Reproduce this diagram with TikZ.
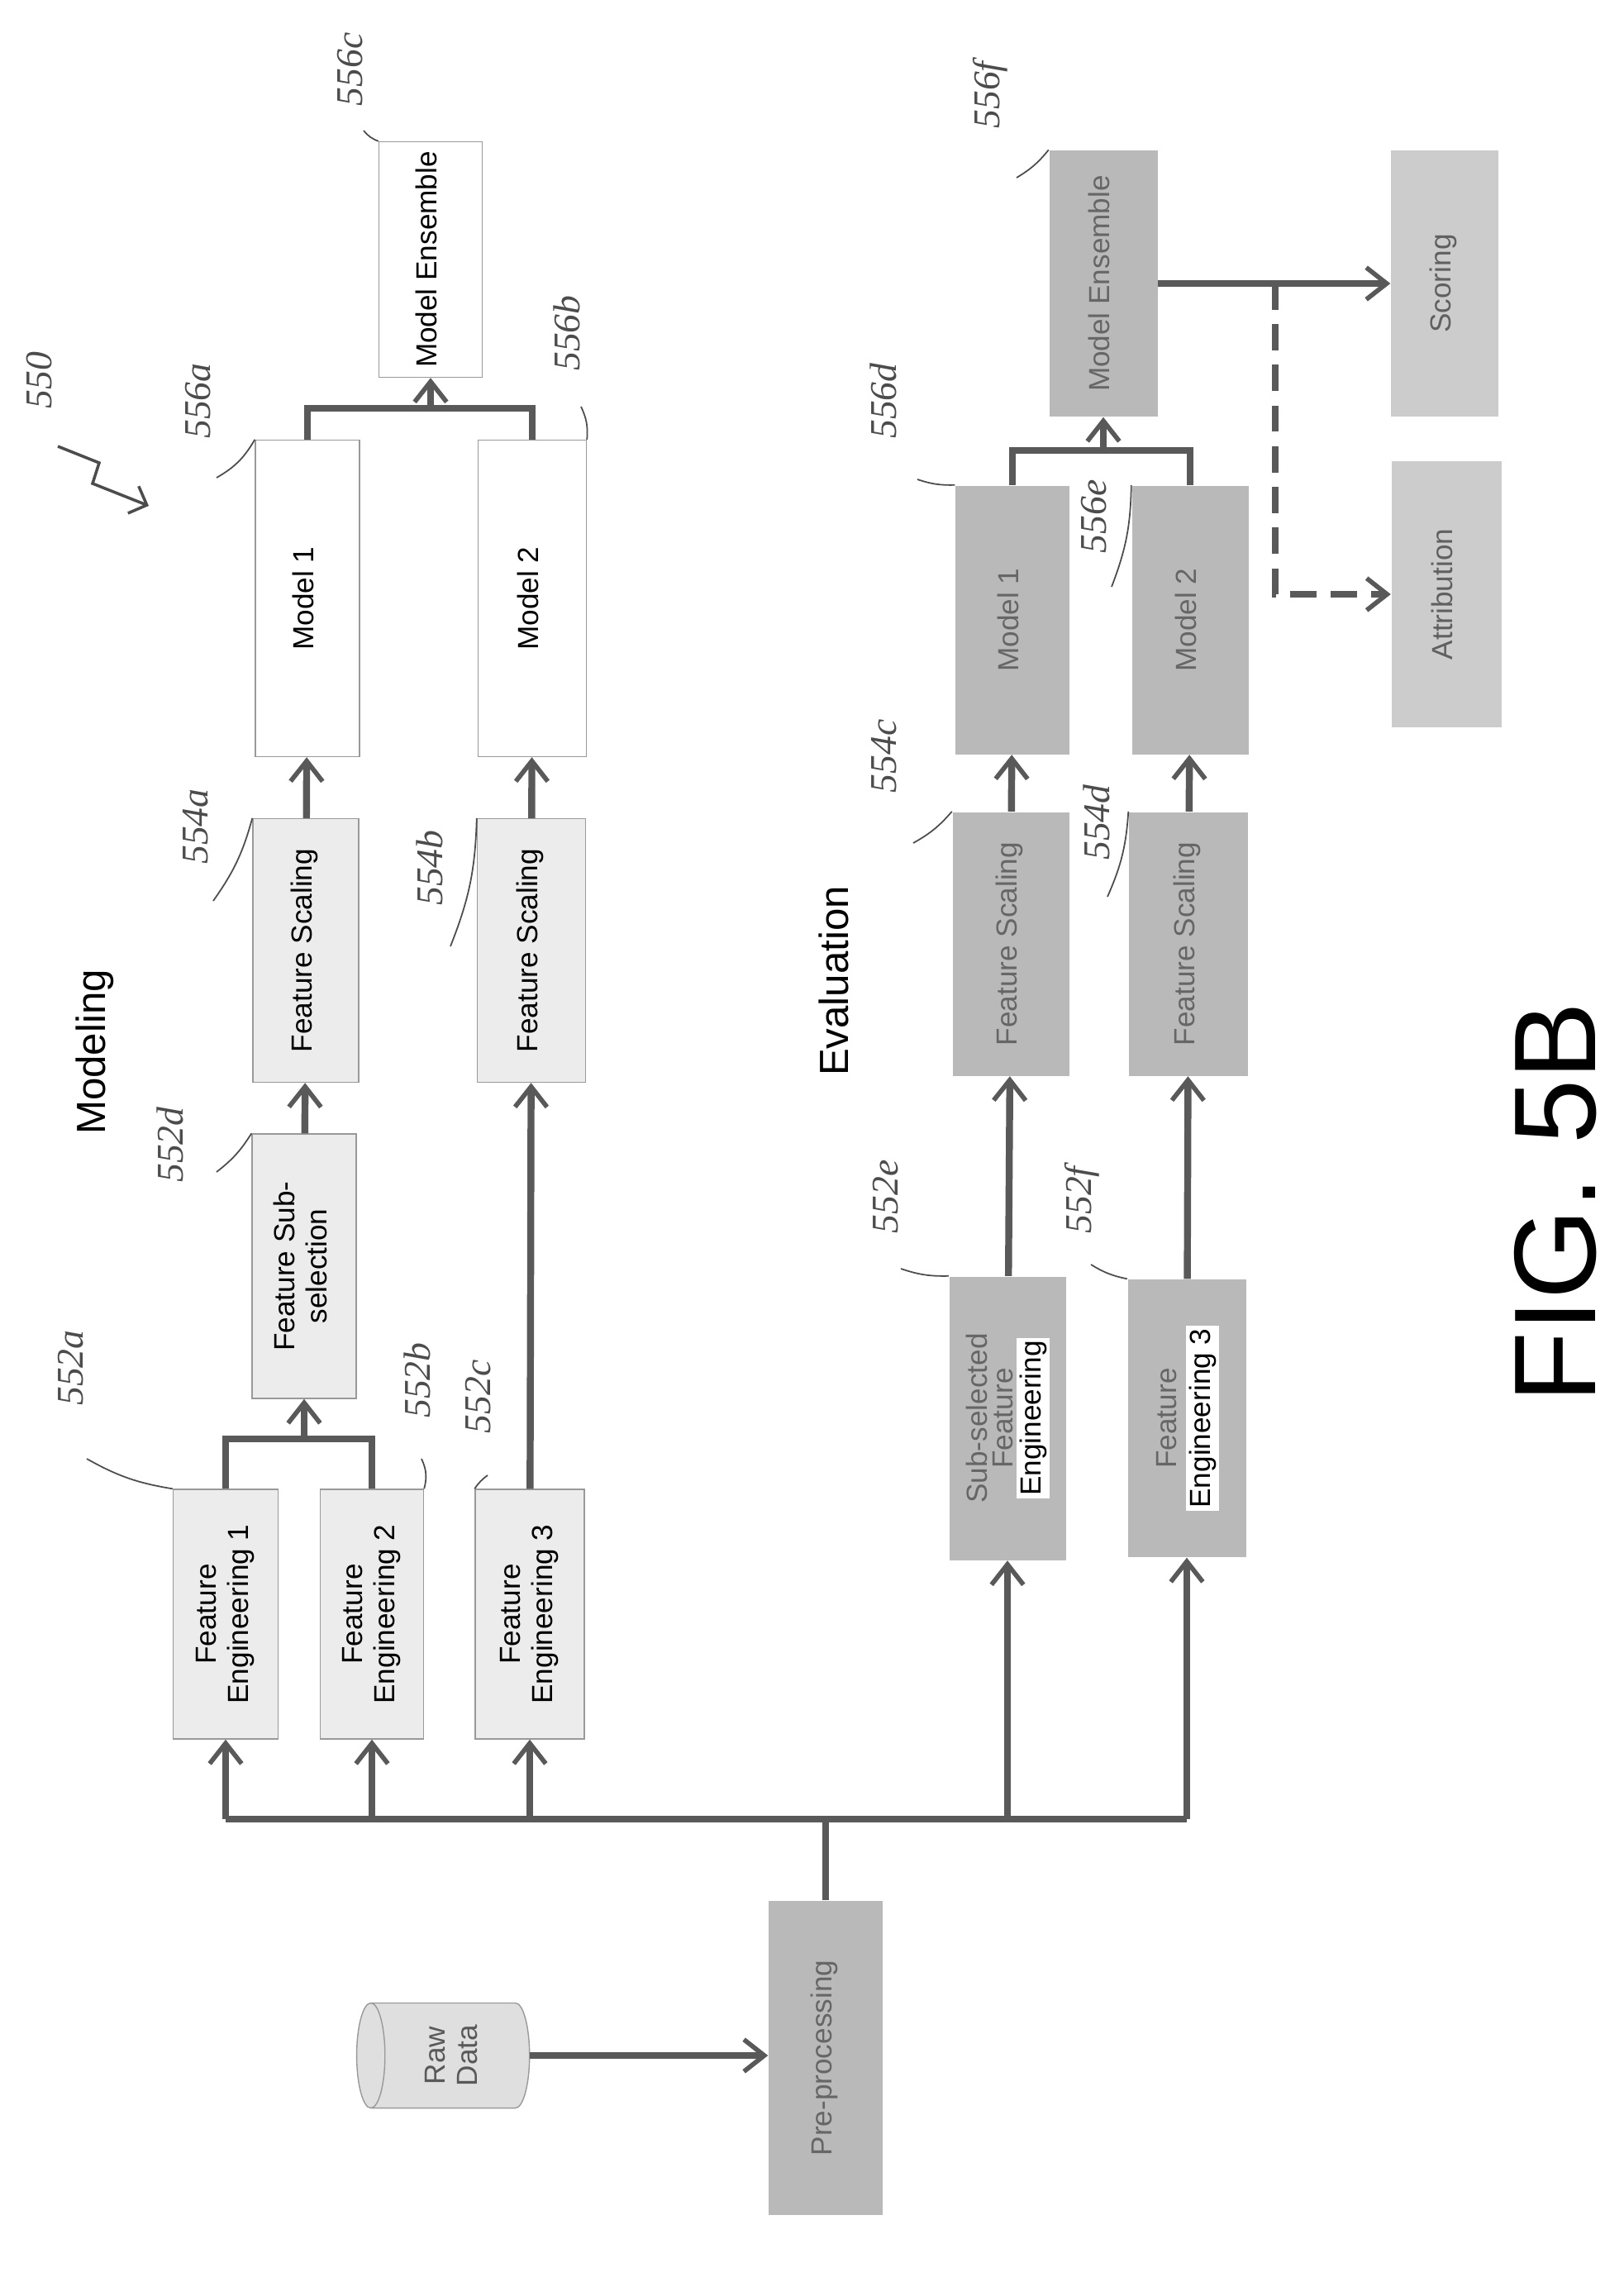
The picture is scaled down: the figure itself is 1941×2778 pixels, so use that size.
\documentclass[tikz,border=0pt]{standalone}
\usepackage{fontspec}
\setmainfont{Liberation Sans}
\newfontfamily\handfont{Liberation Serif}
\usetikzlibrary{arrows.meta,shapes.geometric}
\setlength{\fboxsep}{1pt}
\newcommand{\vtxt}[1]{\rotatebox{90}{\begin{tabular}{@{}c@{}}#1\end{tabular}}}
\begin{document}
\begin{tikzpicture}[x=0.01cm,y=-0.01cm,
    sz/.style 2 args={minimum width=#1*0.01cm, minimum height=#2*0.01cm, inner sep=0pt},
    light/.style={draw=gray!80, fill=gray!15, font=\fontsize{10}{11}\selectfont},
    plain/.style={draw=gray!80, fill=white, font=\fontsize{10}{11}\selectfont},
    dark/.style={draw=none, fill=gray!55, text=gray!80!black, font=\fontsize{10}{11}\selectfont},
    mid/.style={draw=none, fill=gray!40, text=gray!75!black, font=\fontsize{10}{11}\selectfont},
    wire/.style={draw=gray!70!black, line width=2.4pt},
    flow/.style={wire, -{Straight Barb[length=7pt,width=11pt,line width=1.6pt]}},
    ref/.style={font=\handfont\itshape\fontsize{13}{13}\selectfont, text=gray!60!black},
    lead/.style={draw=gray!60!black, line width=0.5pt}]
  \useasboundingbox (0,0) rectangle (1941,2778);
  % modeling row
  \node[light,sz={127}{302}] (fea) at (273,1953) {\vtxt{Feature\\Engineering 1}};
  \node[light,sz={125}{302}] (feb) at (450,1953) {\vtxt{Feature\\Engineering 2}};
  \node[light,sz={132}{302}] (fec) at (641,1953) {\vtxt{Feature\\Engineering 3}};
  \node[light,sz={126}{320}] (sub) at (368,1532) {\vtxt{Feature Sub-\\selection}};
  \node[light,sz={128}{319}] (scla) at (370,1150) {\vtxt{Feature Scaling}};
  \node[light,sz={131}{319}] (sclb) at (643,1150) {\vtxt{Feature Scaling}};
  \node[plain,sz={126}{383}] (moda) at (372,724) {\vtxt{Model 1}};
  \node[plain,sz={131}{383}] (modb) at (644,724) {\vtxt{Model 2}};
  \node[plain,sz={125}{285}] (ens) at (521,314) {\vtxt{Model Ensemble}};
  % evaluation row
  \node[dark,sz={141}{343}] (fee) at (1219,1716) {\vtxt{Sub-selected\\[-2pt]Feature\\[-2pt]\colorbox{white}{\textcolor{black}{Engineering}}}};
  \node[dark,sz={143}{336}] (fef) at (1436,1716) {\vtxt{Feature\\\colorbox{white}{\textcolor{black}{Engineering 3}}}};
  \node[dark,sz={141}{319}] (sclc) at (1223,1142) {\vtxt{Feature Scaling}};
  \node[dark,sz={144}{319}] (scld) at (1438,1142) {\vtxt{Feature Scaling}};
  \node[dark,sz={138}{325}] (modc) at (1225,750) {\vtxt{Model 1}};
  \node[dark,sz={141}{325}] (modd) at (1440,750) {\vtxt{Model 2}};
  \node[dark,sz={131}{322}] (ensb) at (1335,343) {\vtxt{Model Ensemble}};
  \node[mid,sz={130}{322}] (score) at (1748,343) {\vtxt{Scoring}};
  \node[mid,sz={133}{322}] (attr) at (1750,719) {\vtxt{Attribution}};
  % input side
  \node[dark,sz={138}{380}] (pre) at (999,2490) {\vtxt{Pre-processing}};
  \node[cylinder,shape border rotate=180,aspect=0.35,draw=gray!80,fill=gray!25,
        minimum width=1.27cm,minimum height=2.09cm,font=\fontsize{10}{11}\selectfont,
        text=gray!70!black] (raw) at (550,2487) {\vtxt{Raw\\Data}};
  % titles
  \node[font=\fontsize{14}{14}\selectfont] (tmod) at (115,1273) {\rotatebox{90}{Modeling}};
  \node[font=\fontsize{14}{14}\selectfont] (teval) at (1009,1187) {\rotatebox{90}{Evaluation}};
  \node[font=\fontsize{40}{40}\selectfont] (tfig) at (1882,1455) {\rotatebox{90}{FIG. 5B}};
  % connectors
  \coordinate (bus) at (999,2201);
  \draw[wire] (pre.north) -- (bus);
  \draw[wire] (fea.south |- bus) -- (fef.south |- bus);
  \foreach \n in {fea,feb,fec,fee,fef}
    \draw[flow] (\n.south |- bus) -- (\n.south);
  \draw[flow] (raw.east) -- (pre.west |- raw.east);
  \coordinate (jfe) at (368,1741);
  \draw[wire] (fea.north) -- (fea.north |- jfe) -- (feb.north |- jfe) -- (feb.north);
  \draw[flow] (jfe) -- (sub.south);
  \draw[flow] (sub) -- (scla);
  \draw[flow] (fec) -- (sclb);
  \draw[flow] (scla) -- (moda);
  \draw[flow] (sclb) -- (modb);
  \coordinate (jmod) at (521,494);
  \draw[wire] (moda.north) -- (moda.north |- jmod) -- (modb.north |- jmod) -- (modb.north);
  \draw[flow] (jmod) -- (ens.south);
  \draw[flow] (fee) -- (sclc);
  \draw[flow] (fef) -- (scld);
  \draw[flow] (sclc) -- (modc);
  \draw[flow] (scld) -- (modd);
  \coordinate (jev) at (1335,545);
  \draw[wire] (modc.north) -- (modc.north |- jev) -- (modd.north |- jev) -- (modd.north);
  \draw[flow] (jev) -- (ensb.south);
  \draw[flow] (ensb.east) -- (score.west);
  \coordinate (split) at (1543,343);
  \draw[flow, dashed, dash pattern=on 9pt off 5pt] (split) -- (split |- attr.west) -- (attr.west);
  % reference numerals
  \node[ref] (r550) at (48,460) {\rotatebox{90}{550}};
  \draw[lead, line width=1pt, -{Straight Barb[length=5pt]}] (70,540) -- (120,560) -- (112,585) -- (180,612);
  \node[ref] (r556a) at (240,485) {\rotatebox{90}{556a}};
  \draw[lead] (262,578) to[bend right=15] (moda.north west);
  \node[ref] (r556c) at (424,84) {\rotatebox{90}{556c}};
  \draw[lead] (440,158) to[bend right=15] (ens.north west);
  \node[ref] (r556b) at (686,403) {\rotatebox{90}{556b}};
  \draw[lead] (703,492) to[bend left=15] (modb.north east);
  \node[ref] (r552a) at (86,1655) {\rotatebox{90}{552a}};
  \draw[lead] (105,1765) to[bend right=10] (fea.north west);
  \node[ref] (r552b) at (505,1670) {\rotatebox{90}{552b}};
  \draw[lead] (510,1765) to[bend left=20] (feb.north east);
  \node[ref] (r552c) at (579,1690) {\rotatebox{90}{552c}};
  \draw[lead] (590,1785) to[bend right=10] (fec.north west);
  \node[ref] (r552d) at (206,1385) {\rotatebox{90}{552d}};
  \draw[lead] (262,1418) to[bend right=10] (sub.north west);
  \node[ref] (r554a) at (237,1000) {\rotatebox{90}{554a}};
  \draw[lead] (258,1090) to[bend right=10] (scla.north west);
  \node[ref] (r554b) at (520,1050) {\rotatebox{90}{554b}};
  \draw[lead] (545,1145) to[bend right=10] (sclb.north west);
  \node[ref] (r556d) at (1069,485) {\rotatebox{90}{556d}};
  \draw[lead] (1110,580) to[bend right=10] (modc.north west);
  \node[ref] (r556e) at (1324,625) {\rotatebox{90}{556e}};
  \draw[lead] (1345,710) to[bend right=10] (modd.north west);
  \node[ref] (r556f) at (1198,115) {\rotatebox{90}{556f}};
  \draw[lead] (1230,215) to[bend right=10] (ensb.north west);
  \node[ref] (r554c) at (1070,915) {\rotatebox{90}{554c}};
  \draw[lead] (1105,1020) to[bend right=10] (sclc.north west);
  \node[ref] (r554d) at (1327,995) {\rotatebox{90}{554d}};
  \draw[lead] (1340,1085) to[bend right=10] (scld.north west);
  \node[ref] (r552e) at (1072,1448) {\rotatebox{90}{552e}};
  \draw[lead] (1090,1535) to[bend right=10] (fee.north west);
  \node[ref] (r552f) at (1309,1452) {\rotatebox{90}{552f}};
  \draw[lead] (1320,1530) to[bend right=10] (fef.north west);
\end{tikzpicture}
\end{document}
